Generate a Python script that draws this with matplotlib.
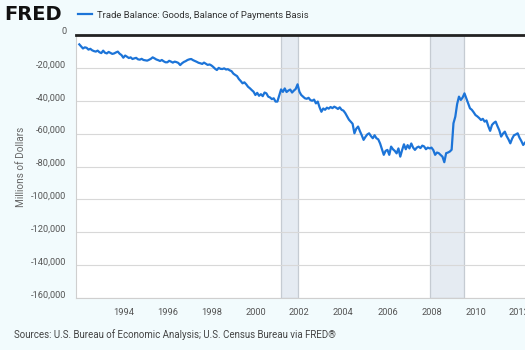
import numpy as np
import matplotlib
matplotlib.use("Agg")
import matplotlib.pyplot as plt
import matplotlib.ticker as mticker
import matplotlib.transforms as mtransforms

# monthly trade balance, goods (millions of dollars), Jan 1992 - Apr 2012
start_year = 1992
balance = [
    # 1992
    -5700, -7000, -8200, -7500, -7800, -8900, -8400, -9300, -9800, -10100, -9500, -10500,
    # 1993
    -11000, -9500, -10800, -11200, -10300, -10900, -11500, -11200, -10600, -10100, -11400, -12200,
    # 1994
    -13800, -12500, -13200, -14000, -13600, -14600, -14200, -13900, -14800, -15000, -14500, -15200,
    # 1995
    -15400, -15600, -15100, -14500, -13600, -14200, -14900, -15300, -15800, -15200, -16000, -16600,
    # 1996
    -16600, -15700, -16200, -16800, -16200, -16500, -17000, -18300, -17200, -16400, -15900, -15200,
    # 1997
    -14800, -14600, -15300, -15800, -16300, -16900, -17200, -17600, -16800, -17500, -18200, -17900,
    # 1998
    -18500, -19400, -20500, -21300, -20000, -20600, -20700, -20300, -21000, -20800, -21500, -22000,
    # 1999
    -23500, -24300, -25000, -26800, -28000, -29400, -28800, -30000, -31500, -32400, -33500, -34500,
    # 2000
    -36500, -35200, -37000, -36000, -37200, -35000, -35500, -37500, -38000, -39000, -38500, -40500,
    # 2001
    -40500, -36800, -33100, -34600, -32500, -34700, -33800, -33200, -35000, -33800, -32800, -30000,
    # 2002
    -34500, -36500, -37500, -38500, -38800, -38200, -39600, -40000, -39300, -41600, -40500, -44000,
    # 2003
    -46700, -44700, -45500, -44200, -44800, -43800, -44500, -43600, -44200, -45000, -44000, -45500,
    # 2004
    -46000, -47500, -49500, -51500, -52800, -54000, -59800, -57000, -55700, -58500, -61000, -63800,
    # 2005
    -62000, -60500, -59800, -61500, -62800, -61000, -62800, -63500, -66000, -69500, -72900, -70500,
    # 2006
    -69900, -72900, -67900, -69500, -70500, -72000, -69000, -74000, -70000, -66500, -69500, -67000,
    # 2007
    -69000, -66000, -68500, -69900, -68500, -67900, -68800, -67300, -67800, -69500, -68500, -69000,
    # 2008
    -68500, -70000, -72900, -71500, -71900, -73000, -74000, -77400, -71900, -71500, -70900, -69800,
    # 2009
    -53700, -49700, -42000, -37500, -39500, -38000, -35500, -38500, -41600, -44600, -45500, -47000,
    # 2010
    -48700, -49500, -50500, -51700, -51000, -52700, -52000, -55500, -58300, -54700, -53500, -52700,
    # 2011
    -55500, -58000, -61800, -60000, -58800, -61500, -63500, -65900, -63000, -61000, -60500, -59800,
    # 2012
    -62500, -64500, -66900, -65500,
]
dates = start_year + np.arange(len(balance)) / 12.0

recessions = [(2001.17, 2001.92), (2007.92, 2009.5)]
xticks = [1994, 1996, 1998, 2000, 2002, 2004, 2006, 2008, 2010, 2012]
yticks = [0, -20000, -40000, -60000, -80000, -100000, -120000, -140000, -160000]

series_name = "Trade Balance: Goods, Balance of Payments Basis"
source_text = "Sources: U.S. Bureau of Economic Analysis; U.S. Census Bureau via FRED\u00ae"

plt.rcParams["font.family"] = ["Roboto", "DejaVu Sans"]

bg = "#f2fbfd"
fig = plt.figure(figsize=(5.25, 3.5), dpi=100, facecolor=bg)
ax = fig.add_axes([76 / 525, 1 - 298 / 350, 1 - 76 / 525, (298 - 35) / 350])
ax.set_facecolor("white")

for a, b in recessions:
    ax.axvspan(a, b, facecolor="#e5ebf2", edgecolor="#c5cbd2", lw=0.9, zorder=1)

line, = ax.plot(dates, balance, color="#1c74d8", lw=1.6, zorder=3, label=series_name)

ax.set_xlim(1991.85, 2012.25)
ax.set_ylim(-160000, 0)
ax.set_xticks(xticks)
ax.set_yticks(yticks)
ax.yaxis.set_major_formatter(mticker.FuncFormatter(lambda v, p: f"{int(v):,}"))
ax.grid(axis="y", color="#d8d8d8", lw=0.8, zorder=0)
ax.tick_params(axis="both", length=0, labelsize=6.7, labelcolor="#555555")
ax.tick_params(axis="y", pad=7)
ax.tick_params(axis="x", pad=7)

# y labels sit a little above their gridlines
shift = mtransforms.ScaledTranslation(0, 4 / 100, fig.dpi_scale_trans)
for lab in ax.get_yticklabels():
    lab.set_transform(lab.get_transform() + shift)

ax.spines["right"].set_visible(False)
ax.spines["top"].set_color("#222222")
ax.spines["top"].set_linewidth(2)
ax.spines["left"].set_color("#cfcfcf")
ax.spines["bottom"].set_color("#cfcfcf")

ax.set_ylabel("Millions of Dollars", fontsize=7.2, color="#666666")
ax.yaxis.set_label_coords(-0.112, 0.5)

fig.text(4 / 525, 1 - 15 / 350, "FRED", fontsize=14, fontweight="bold", color="#111111",
         va="center", ha="left", family=["DejaVu Sans"])
fig.legend(handles=[line], loc="center left", bbox_to_anchor=(73 / 525, 1 - 15 / 350),
           frameon=False, fontsize=6.8, handlelength=1.5, handletextpad=0.5,
           labelcolor="#333333", borderpad=0.0)

fig.text(14 / 525, 1 - 335 / 350, source_text, fontsize=7, color="#444444",
         va="center", ha="left")

fig.savefig("out.png", dpi=100, facecolor=bg)
